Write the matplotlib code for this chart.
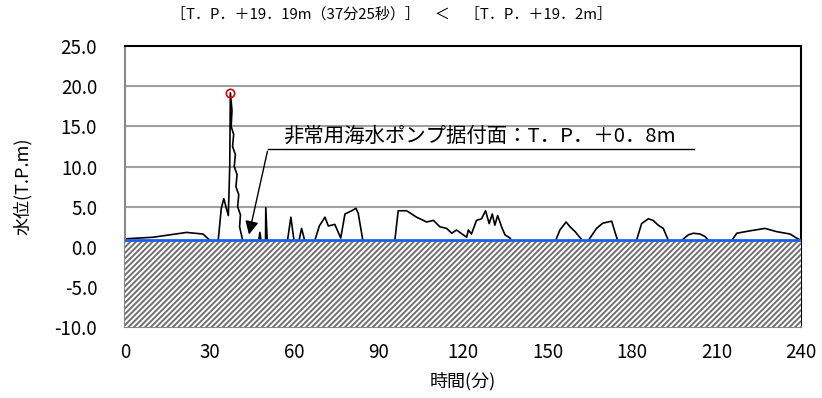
import matplotlib
matplotlib.use('Agg')
import matplotlib.pyplot as plt

plt.rcParams['font.family'] = ['Noto Sans CJK JP', 'DejaVu Sans']
plt.rcParams['hatch.linewidth'] = 1.4

# water level (T.P. m) vs time (min); values under 0.8 are hidden by the hatch
time = [0, 10, 21.9, 27.7, 30.2, 31, 33.1, 34.2, 35.1, 36.0, 36.7, 37.2, 37.42,
        38.0, 37.7, 38.6, 38.2, 39.2, 38.8, 39.8, 39.4, 40.4, 40.0, 41.0, 40.7, 41.8, 43,
        46.5, 47.5, 47.9, 48.3, 49.5, 49.9, 50.0, 50.5, 52,
        57.5, 58.9, 60, 61.5, 62.7, 63.8, 66, 67.4, 69, 71, 72.2, 74.5, 76.6, 78.1, 80.5, 82, 82.8, 84.4, 86,
        94, 95.8, 97, 100, 103.5, 107.1, 109.5, 111.8, 114.2, 116, 117.7, 120.1, 121.3, 121.9, 123,
        124.8, 126.6, 128, 129.3, 130.4, 131.3, 132.3, 133.7, 134.9, 136.7, 138,
        151.5, 152.9, 154.4, 156.6, 158, 159.8, 162.1, 163.3,
        164.5, 167.4, 169.6, 172.8, 173.9, 174.9, 177,
        180.5, 181.6, 183.4, 185.8, 187.5, 189.3, 191.1, 192.9, 194,
        196.5, 197.6, 200, 201.8, 204.1, 205.9, 207.1, 208.5,
        214, 215.4, 217.2, 221.9, 227.2, 231.3, 236.1, 238.4, 240]
level = [1.0, 1.2, 1.8, 1.6, 0.8, 0.3, 0.8, 4.8, 6.0, 4.8, 3.9, 10.0, 19.19,
         17.0, 15.0, 14.0, 12.5, 11.5, 10.0, 9.0, 7.5, 6.5, 5.0, 4.0, 2.5, 0.8, 0.3,
         0.3, 0.8, 1.8, 0.8, 0.3, 0.8, 4.9, 0.8, 0.3,
         0.3, 3.7, 0.8, 0.3, 2.3, 0.8, 0.3, 0.8, 2.6, 3.7, 2.6, 2.8, 1.1, 4.1, 4.5, 4.8, 4.2, 0.9, 0.3,
         0.3, 0.8, 4.5, 4.5, 3.7, 3.1, 3.3, 2.5, 2.3, 1.7, 2.1, 1.5, 1.2, 2.1, 1.6,
         3.3, 3.5, 4.5, 2.9, 4.1, 2.7, 3.9, 2.5, 1.5, 1.1, 0.3,
         0.3, 0.8, 2.1, 3.1, 2.5, 1.9, 0.9, 0.3,
         0.8, 2.3, 2.95, 3.2, 1.9, 0.8, 0.3,
         0.3, 0.8, 2.9, 3.5, 3.3, 2.7, 2.3, 0.8, 0.3,
         0.3, 0.8, 1.5, 1.7, 1.6, 1.3, 0.8, 0.3,
         0.3, 0.8, 1.7, 2.0, 2.3, 1.9, 1.6, 1.1, 0.8]

peak_time = 37 + 25 / 60
peak_level = 19.19
pump_level = 0.8
x_ticks = [0, 30, 60, 90, 120, 150, 180, 210, 240]
y_ticks = [-10, -5, 0, 5, 10, 15, 20, 25]

fig = plt.figure(figsize=(8.22, 3.98), dpi=100)
ax = fig.add_axes([0.152, 0.178, 0.8225, 0.706])

for v in [5, 10, 15, 20]:
    ax.axhline(v, color='#a0a0a0', lw=1.5, zorder=1)

ax.plot(time, level, color='black', lw=1.2, zorder=2)

ax.fill_between([0, 240], -10, pump_level, facecolor='white', edgecolor='#707070',
                hatch='//////', linewidth=0, zorder=3)
ax.axhline(pump_level, color='#1f5fe8', lw=2, zorder=4)

ax.plot([peak_time], [peak_level], 'o', mfc='none', mec='#e00000', ms=6, mew=1.2, zorder=5)

# annotation with leader line
ax.plot([50.8, 202], [12.25, 12.25], color='black', lw=1.0, zorder=5)
ax.annotate('', xy=(43.8, 1.2), xytext=(50.8, 12.25),
            arrowprops=dict(arrowstyle='-|>', color='black', lw=1.0, mutation_scale=20),
            zorder=5)
ax.text(56.1, 12.5, '非常用海水ポンプ据付面：T．P．＋0．8m', fontsize=14.7,
        ha='left', va='bottom', zorder=5)

ax.set_xlim(0, 240)
ax.set_ylim(-10, 25)
ax.set_xticks(x_ticks)
ax.set_yticks(y_ticks)
ax.set_yticklabels(['%.1f' % v for v in y_ticks])
ax.tick_params(length=0, labelsize=13.5)
ax.tick_params(axis='y', pad=20)
ax.tick_params(axis='x', pad=11)

for s in ['left', 'bottom']:
    ax.spines[s].set_color('#888888')
    ax.spines[s].set_linewidth(1.5)
for s in ['top', 'right']:
    ax.spines[s].set_color('black')
    ax.spines[s].set_linewidth(1.5)

ax.set_xlabel('時間(分)', fontsize=13, labelpad=6)
ax.set_ylabel('水位(T.P.m)', fontsize=13, labelpad=16)

fig.text(0.476, 0.965, '［T．P．＋19．19m（37分25秒）］　＜　［T．P．＋19．2m］',
         fontsize=10.8, ha='center', va='center')

fig.savefig('out.png', dpi=100)
